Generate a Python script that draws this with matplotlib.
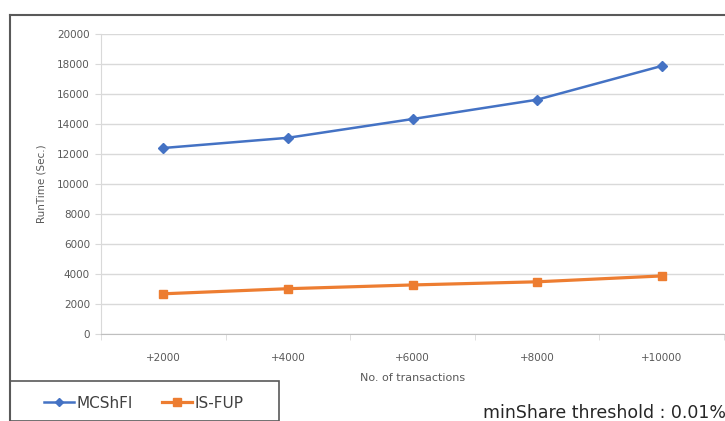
import matplotlib
matplotlib.use('Agg')
import matplotlib.pyplot as plt
from matplotlib.lines import Line2D
from matplotlib.patches import Rectangle

W, H = 725, 421

categories = ['+2000', '+4000', '+6000', '+8000', '+10000']
mcshfi = [12400, 13080, 14330, 15620, 17870]
isfup = [2680, 3020, 3270, 3480, 3870]

BLUE = '#4472c4'
ORANGE = '#ed7d31'
TEXT = '#595959'
GRID = '#d9d9d9'

plt.rcParams['font.family'] = ['DejaVu Sans']

fig = plt.figure(figsize=(W / 100, H / 100), dpi=100)
fig.patch.set_facecolor('white')


def fx(px):
    return px / W


def fy(py):
    return 1 - py / H


# plot area
ax = fig.add_axes([fx(101), fy(334), fx(724) - fx(101), fy(34) - fy(334)])
x = list(range(len(categories)))
ax.plot(x, mcshfi, color=BLUE, lw=1.8, marker='D', ms=5, mfc=BLUE, mec=BLUE,
        label='MCShFI')
ax.plot(x, isfup, color=ORANGE, lw=2.3, marker='s', ms=6, mfc=ORANGE, mec=ORANGE,
        label='IS-FUP')

ax.set_xlim(-0.5, len(categories) - 0.5)
ax.set_ylim(0, 20000)
ax.set_yticks(range(0, 20001, 2000))
ax.set_xticks(x)
ax.set_xticklabels(categories)
ax.set_xticks([i - 0.5 for i in range(len(categories) + 1)], minor=True)
ax.tick_params(axis='x', which='major', length=0, pad=14, labelsize=7.5, colors=TEXT)
ax.tick_params(axis='x', which='minor', length=4, color=GRID, direction='out')
ax.tick_params(axis='y', length=4, color=GRID, labelsize=7.5, colors=TEXT, pad=4)
ax.yaxis.grid(True, color=GRID, lw=1)
ax.set_axisbelow(True)
for s in ['top', 'right']:
    ax.spines[s].set_visible(False)
ax.spines['left'].set_color(GRID)
ax.spines['bottom'].set_color('#bfbfbf')

ax.set_ylabel('RunTime (Sec.)', fontsize=7.5, color=TEXT, labelpad=8)
ax.set_xlabel('No. of transactions', fontsize=8, color=TEXT, labelpad=7)

# chart frame
fig.add_artist(Line2D([fx(10), 1], [fy(15), fy(15)], color='#595959', lw=1.5))
fig.add_artist(Line2D([fx(10), fx(10)], [fy(15), 0], color='#595959', lw=1.5))

# legend box
fig.add_artist(Rectangle((fx(10), 0), fx(279) - fx(10), fy(381), fill=False,
                         edgecolor='#595959', lw=1.2))
handles, labels = ax.get_legend_handles_labels()
fig.legend(handles, labels, loc='center left', bbox_to_anchor=(fx(36), fy(403)),
           ncol=2, frameon=False, fontsize=11, handlelength=2.0, handletextpad=0.15,
           columnspacing=1.9, borderpad=0, labelcolor='#404040', markerscale=0.9)

fig.text(fx(483), fy(413), 'minShare threshold : 0.01%', fontsize=12.5,
         color='#262626', va='center', ha='left')

fig.savefig('out.png', dpi=100, facecolor='white')
